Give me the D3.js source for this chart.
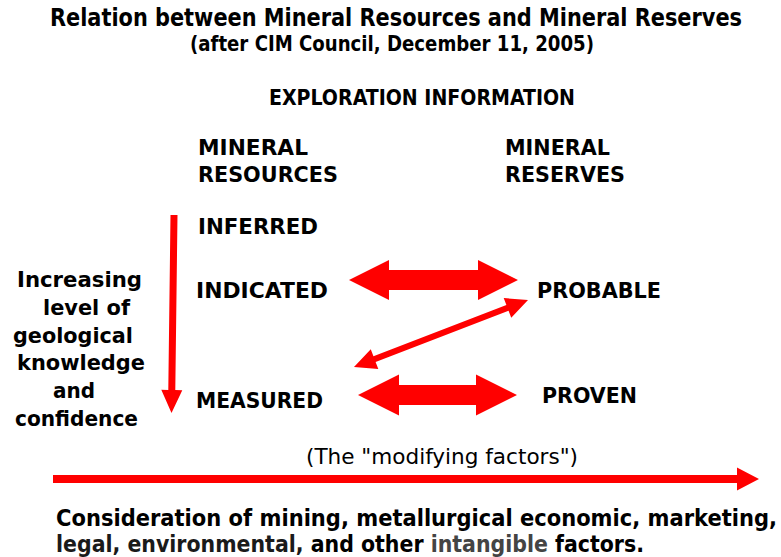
<!DOCTYPE html>
<html>
<head>
<meta charset="utf-8">
<title>Mineral Resources and Mineral Reserves</title>
<script src="https://d3js.org/d3.v7.min.js"></script>
<style>
  body { margin: 0; background: #fff; }
  text { font-family: "DejaVu Sans", Verdana, sans-serif; font-weight: bold; fill: #000; }
  .cond { font-family: "DejaVu Sans Condensed", "DejaVu Sans", sans-serif; }
  .light { font-weight: normal; }
</style>
</head>
<body>
<svg width="781" height="557"></svg>
<script>
// text content of the diagram
var titleLines = ["Relation between Mineral Resources and Mineral Reserves",
                  "(after CIM Council, December 11, 2005)"];
var headerText = "EXPLORATION INFORMATION";
var resourceHead = ["MINERAL", "RESOURCES"];
var reserveHead = ["MINERAL", "RESERVES"];
var resourceLevels = ["INFERRED", "INDICATED", "MEASURED"];
var reserveLevels = ["PROBABLE", "PROVEN"];
var sideLines = ["Increasing", "level of", "geological", "knowledge", "and", "confidence"];
var factorsNote = "(The \"modifying factors\")";
var factorLine1 = "Consideration of mining, metallurgical economic, marketing,";
var factorLine2 = ["legal, environmental, ", "and other ", "intangible ", "factors."];
// conversion links: [resource, reserve]
var links = [["INDICATED", "PROBABLE"], ["MEASURED", "PROVEN"], ["MEASURED", "PROBABLE"]];

var svg = d3.select("svg");
var red = "#ff0000";

// row positions (baselines) for each level
var yRes = d3.scaleOrdinal().domain(resourceLevels).range([234, 298, 408]);
var xRes = d3.scaleOrdinal().domain(resourceLevels).range([198, 196, 196]);
var wRes = d3.scaleOrdinal().domain(resourceLevels).range([120, 132, 127]);
var yRsv = d3.scaleOrdinal().domain(reserveLevels).range([298, 403]);
var xRsv = d3.scaleOrdinal().domain(reserveLevels).range([537, 542]);
var wRsv = d3.scaleOrdinal().domain(reserveLevels).range([124, 95]);

function label(x, y, s, size, w, cls) {
  var t = svg.append("text")
    .attr("x", x).attr("y", y)
    .style("font-size", size + "px")
    .text(s);
  if (w) t.attr("textLength", w).attr("lengthAdjust", "spacingAndGlyphs");
  if (cls) t.attr("class", cls);
  return t;
}

// arrow outline as a polygon, from p1 to p2
function arrowPath(p1, p2, sw, hl, hw, both) {
  var dx = p2[0] - p1[0], dy = p2[1] - p1[1];
  var L = Math.sqrt(dx * dx + dy * dy);
  var ux = dx / L, uy = dy / L, nx = -uy, ny = ux;
  var local = [];
  if (both) {
    local.push([0, 0], [hl, -hw / 2], [hl, -sw / 2]);
  } else {
    local.push([0, -sw / 2]);
  }
  local.push([L - hl, -sw / 2], [L - hl, -hw / 2], [L, 0], [L - hl, hw / 2], [L - hl, sw / 2]);
  if (both) {
    local.push([hl, sw / 2], [hl, hw / 2]);
  } else {
    local.push([0, sw / 2]);
  }
  var pts = local.map(function(q) {
    return [p1[0] + ux * q[0] + nx * q[1], p1[1] + uy * q[0] + ny * q[1]];
  });
  return d3.line()(pts) + "Z";
}

// titles
label(396, 26, titleLines[0], 24, 692, "cond").attr("text-anchor", "middle");
label(392, 51, titleLines[1], 21, 404, "cond").attr("text-anchor", "middle");
label(422, 105, headerText, 22, 306, "cond").attr("text-anchor", "middle");

// column heads
label(198, 155, resourceHead[0], 21, 110);
label(198, 182, resourceHead[1], 21, 140);
label(505, 155, reserveHead[0], 21, 105);
label(505, 182, reserveHead[1], 21, 120);

// levels
svg.selectAll(".res").data(resourceLevels).enter().append("text")
  .attr("class", "res")
  .attr("x", function(d) { return xRes(d); })
  .attr("y", function(d) { return yRes(d); })
  .attr("textLength", function(d) { return wRes(d); })
  .attr("lengthAdjust", "spacingAndGlyphs")
  .style("font-size", "21px")
  .text(function(d) { return d; });

svg.selectAll(".rsv").data(reserveLevels).enter().append("text")
  .attr("class", "rsv")
  .attr("x", function(d) { return xRsv(d); })
  .attr("y", function(d) { return yRsv(d); })
  .attr("textLength", function(d) { return wRsv(d); })
  .attr("lengthAdjust", "spacingAndGlyphs")
  .style("font-size", "21px")
  .text(function(d) { return d; });

// left side caption
var sideX = [17, 43, 13, 17, 53, 15];
var sideW = [125, 87, 120, 128, 42, 123];
var sideY = d3.scalePoint().domain(sideLines).range([287, 426]);
sideLines.forEach(function(s, i) {
  label(sideX[i], sideY(s), s, 21, sideW[i]);
});

// vertical "increasing confidence" arrow
svg.append("path")
  .attr("d", arrowPath([174, 215], [171.5, 413], 7, 23, 21, false))
  .attr("fill", red);

// conversion arrows between resources and reserves
var linkGeom = {
  "INDICATED-PROBABLE": { p1: [349, 280], p2: [518, 280], sw: 20, hl: 40, hw: 40 },
  "MEASURED-PROVEN":    { p1: [358, 395], p2: [517, 395], sw: 20, hl: 41, hw: 41 },
  "MEASURED-PROBABLE":  { p1: [354, 367], p2: [528, 300], sw: 6, hl: 22, hw: 21 }
};
svg.selectAll(".link").data(links).enter().append("path")
  .attr("class", "link")
  .attr("d", function(d) {
    var g = linkGeom[d[0] + "-" + d[1]];
    return arrowPath(g.p1, g.p2, g.sw, g.hl, g.hw, true);
  })
  .attr("fill", red);

// modifying factors
label(306, 464, factorsNote, 21, 272, "cond light");
svg.append("path")
  .attr("d", arrowPath([53, 479], [759, 479], 8, 22, 23, false))
  .attr("fill", red);

label(56, 526, factorLine1, 23, 721, "cond");
var l2 = svg.append("text").attr("class", "cond").attr("x", 56).attr("y", 552)
  .style("font-size", "23px")
  .attr("textLength", 588).attr("lengthAdjust", "spacingAndGlyphs");
var l2fill = ["#1a1a1a", "#000", "#444", "#000"];
factorLine2.forEach(function(s, i) {
  l2.append("tspan").style("fill", l2fill[i]).text(s);
});
</script>
</body>
</html>
